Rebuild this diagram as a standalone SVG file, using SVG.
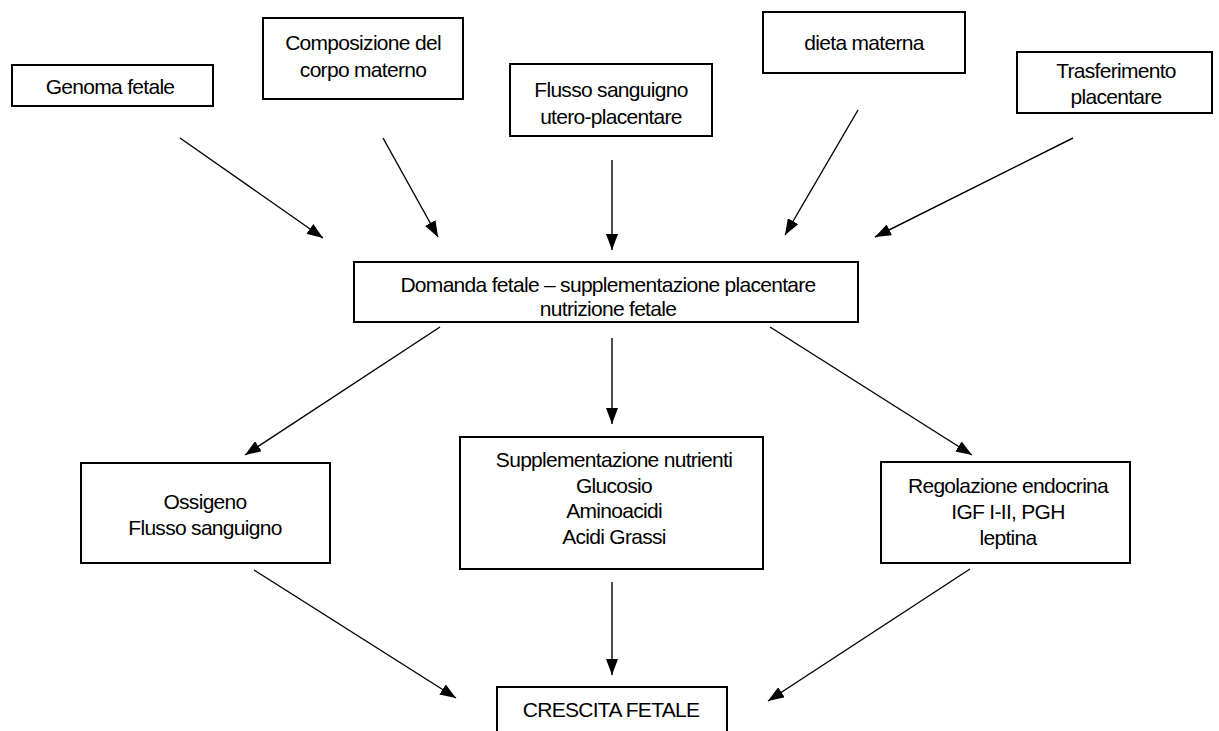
<svg xmlns="http://www.w3.org/2000/svg" width="1219" height="731" viewBox="0 0 1219 731">
<style>
.box{fill:#fff;stroke:#000;stroke-width:2}
.t{font-family:"Liberation Sans",Arial,sans-serif;font-size:21px;fill:#000;text-anchor:middle;letter-spacing:-0.7px}
.c line{stroke:#000;stroke-width:1.4;marker-end:url(#ah)}
</style>
<defs>
<marker id="ah" markerUnits="userSpaceOnUse" markerWidth="16" markerHeight="12" viewBox="0 0 16 12" refX="16" refY="6" orient="auto">
<path d="M0,0 L16,6 L0,12 Z" fill="#000"/>
</marker>
</defs>
<rect width="1219" height="731" fill="#fff"/>
<g id="genoma"><rect class="box" x="12" y="65" width="201" height="41"/><text class="t" x="110" y="94">Genoma fetale</text></g>
<g id="composizione"><rect class="box" x="263" y="18" width="200" height="81"/><text class="t" x="363" y="50">Composizione del</text><text class="t" x="363" y="77">corpo materno</text></g>
<g id="flusso"><rect class="box" x="510" y="64" width="202" height="72"/><text class="t" x="611" y="97">Flusso sanguigno</text><text class="t" x="611" y="124">utero-placentare</text></g>
<g id="dieta"><rect class="box" x="763" y="12" width="202" height="61"/><text class="t" x="864" y="50">dieta materna</text></g>
<g id="trasferimento"><rect class="box" x="1017" y="52" width="195" height="61"/><text class="t" x="1116" y="78">Trasferimento</text><text class="t" x="1116" y="104">placentare</text></g>
<g id="domanda"><rect class="box" x="354" y="262" width="504" height="60"/><text class="t" x="608" y="292">Domanda fetale – supplementazione placentare</text><text class="t" x="608" y="316">nutrizione fetale</text></g>
<g id="ossigeno"><rect class="box" x="81" y="463" width="249" height="100"/><text class="t" x="205" y="509">Ossigeno</text><text class="t" x="205" y="535">Flusso sanguigno</text></g>
<g id="supplementazione"><rect class="box" x="460" y="437" width="303" height="132"/><text class="t" x="614" y="467">Supplementazione nutrienti</text><text class="t" x="614" y="493">Glucosio</text><text class="t" x="614" y="518">Aminoacidi</text><text class="t" x="614" y="544">Acidi Grassi</text></g>
<g id="regolazione"><rect class="box" x="881" y="462" width="249" height="101"/><text class="t" x="1008" y="493">Regolazione endocrina</text><text class="t" x="1008" y="519">IGF I-II, PGH</text><text class="t" x="1008" y="545">leptina</text></g>
<g id="crescita"><rect class="box" x="497" y="687" width="230" height="60"/><text class="t" x="611" y="717">CRESCITA FETALE</text></g>
<g id="connectors" class="c">
<line x1="180" y1="138" x2="323" y2="238"/>
<line x1="383" y1="138" x2="438" y2="237"/>
<line x1="612" y1="160" x2="612" y2="250"/>
<line x1="858" y1="110" x2="785" y2="235"/>
<line x1="1073" y1="138" x2="875" y2="237"/>
<line x1="440" y1="327" x2="245" y2="455"/>
<line x1="612" y1="338" x2="612" y2="424"/>
<line x1="770" y1="327" x2="972" y2="455"/>
<line x1="254" y1="570" x2="456" y2="698"/>
<line x1="612" y1="582" x2="612" y2="675"/>
<line x1="970" y1="569" x2="768" y2="701"/>
</g>
</svg>
